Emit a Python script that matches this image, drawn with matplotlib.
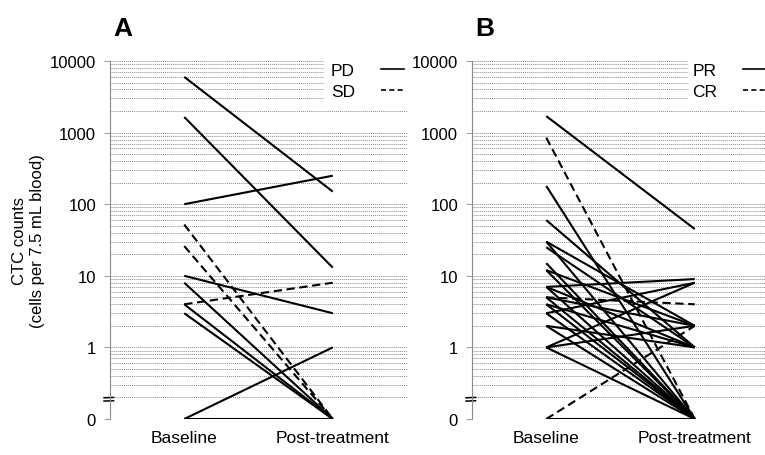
"""
CTC counts before and after treatment, two panels (A: PD/SD, B: PR/CR).
"""
import numpy as np
import matplotlib.pyplot as plt
from matplotlib.lines import Line2D
import matplotlib.transforms as mtransforms

plt.rcParams["font.family"] = ["Liberation Sans", "DejaVu Sans"]

# panel A: (baseline, post-treatment) counts per patient
a_pd_base = [6000, 1650, 100, 10, 8, 4, 3, 0, 0]
a_pd_post = [150, 13, 250, 3, 0, 0, 0, 1, 0]
a_sd_base = [52, 26, 4]
a_sd_post = [0, 0, 8]

# panel B
b_pr_base = [1700, 180, 60, 30, 30, 25, 15, 12, 12, 7, 7, 7, 5, 5, 4, 4, 3, 3,
             2, 2, 1, 1, 1, 0]
b_pr_post = [45, 0, 1, 2, 0, 1, 0, 2, 0, 9, 1, 0, 2, 0, 1, 0, 8, 0,
             1, 0, 8, 2, 0, 0]
b_cr_base = [850, 5, 0]
b_cr_post = [0, 4, 2]

x_labels = ["Baseline", "Post-treatment"]
y_ticks = [0, 1, 10, 100, 1000, 10000]
ZERO = 0.1  # where 0 sits on the log axis


def to_log(v):
    v = np.asarray(v, dtype=float)
    return np.where(v == 0, ZERO, v)


def panel(ax, solid_b, solid_p, dash_b, dash_p, names, letter, grid_stop):
    ax.set_yscale("log")
    ax.set_ylim(ZERO, 10000)
    ax.set_xlim(-0.5, 1.5)
    # dotted grid at every 1..9 x decade
    for dec in [0.1, 1, 10, 100, 1000]:
        for m in range(1, 10):
            v = dec * m
            xmax = grid_stop if v > 2500 else 1.0
            ax.axhline(v, xmin=0, xmax=xmax, color="#8a8a8a", lw=0.7,
                       ls=(0, (1, 1)), zorder=0)
    ax.axhline(10000, xmin=0, xmax=grid_stop, color="#8a8a8a", lw=0.7,
               ls=(0, (1, 1)), zorder=0)

    for b, p in zip(solid_b, solid_p):
        ax.plot([0, 1], to_log([b, p]), color="black", lw=1.5,
                solid_capstyle="butt")
    for b, p in zip(dash_b, dash_p):
        ax.plot([0, 1], to_log([b, p]), color="black", lw=1.5,
                ls=(0, (4, 2.2)))

    ax.set_yticks(to_log(y_ticks))
    ax.set_yticklabels([str(t) for t in y_ticks])
    ax.yaxis.set_minor_locator(plt.NullLocator())
    ax.set_xticks([0, 1])
    ax.set_xticklabels(x_labels)
    ax.tick_params(axis="x", length=0, pad=8, labelsize=12.5)
    ax.tick_params(axis="y", length=4, width=0.6, color="#8a8a8a", pad=6,
                   labelsize=12)
    for s in ["top", "right", "bottom"]:
        ax.spines[s].set_visible(False)
    ax.spines["left"].set_color("#8a8a8a")
    ax.spines["left"].set_linestyle((0, (1, 1)))
    ax.spines["left"].set_linewidth(0.8)

    # axis break mark
    trans = mtransforms.blended_transform_factory(ax.transAxes, ax.transData)
    for yy in [0.178, 0.198]:
        ax.plot([-0.02, 0.012], [yy, yy * 1.01], color="black",
                lw=1.1, transform=trans, clip_on=False)

    handles = [Line2D([], [], color="black", lw=1.2),
               Line2D([], [], color="black", lw=1.2, ls=(0, (3, 2)))]
    ax.legend(handles, names, loc="upper right", bbox_to_anchor=(1.0, 1.005),
              frameon=False, markerfirst=False, fontsize=12.5,
              borderaxespad=0.0, borderpad=0.2,
              handlelength=1.3, handletextpad=1.5, labelspacing=0.35)
    ax.text(0.01, 1.06, letter, transform=ax.transAxes, fontsize=19,
            fontweight="bold", ha="left", va="bottom")


fig = plt.figure(figsize=(7.65, 4.56), dpi=100)
ax1 = fig.add_axes([110 / 765, 36 / 456, 297 / 765, 358 / 456])
ax2 = fig.add_axes([472 / 765, 36 / 456, 297 / 765, 358 / 456])

panel(ax1, a_pd_base, a_pd_post, a_sd_base, a_sd_post, ["PD", "SD"], "A",
      0.717)
panel(ax2, b_pr_base, b_pr_post, b_cr_base, b_cr_post, ["PR", "CR"], "B",
      0.727)

fig.text(29 / 765, 1 - 241 / 456, "CTC counts\n(cells per 7.5 mL blood)",
         rotation=90, ha="center", va="center", fontsize=12,
         multialignment="center", linespacing=1.25)

fig.savefig("out.png", dpi=100)
